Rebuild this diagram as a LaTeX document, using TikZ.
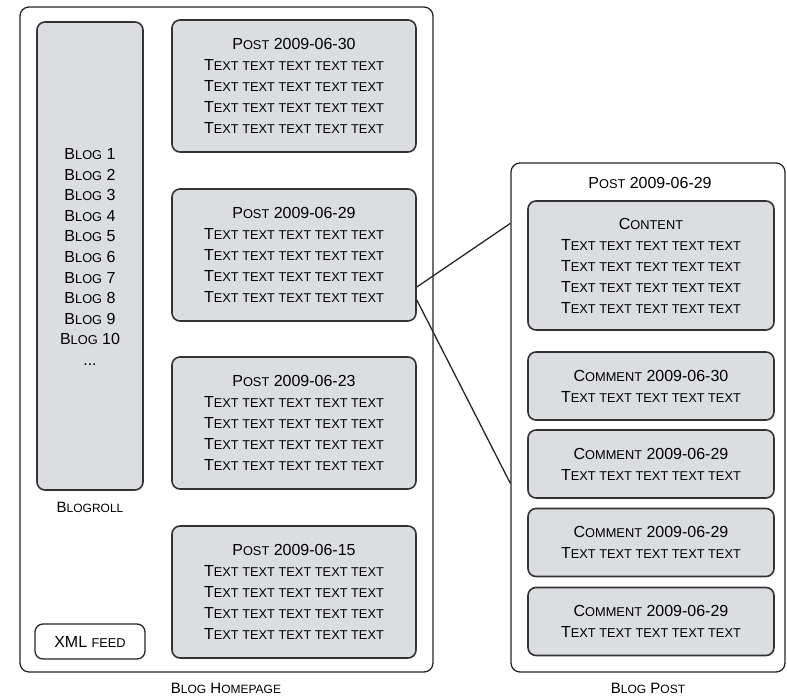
\documentclass[tikz,border=0pt]{standalone}
\usepackage{fontspec}
\setmainfont{Liberation Sans}
\usetikzlibrary{calc}

\definecolor{boxgray}{RGB}{219,221,224}
% fake small caps
\newcommand{\sm}[2][12.8]{{\fontsize{#1}{21}\selectfont\MakeUppercase{#2}}}
\newcommand{\Txt}{T\sm{ext text text text text}}

\tikzset{
  frame/.style={draw=black!85, line width=1.3pt, rounded corners=9pt, fill=white, inner sep=0pt},
  graybox/.style={draw=black!80, line width=1.6pt, rounded corners=8pt, fill=boxgray,
    align=center, inner sep=0pt, font=\fontsize{16}{21}\selectfont},
  postbox/.style={graybox, minimum width=244pt, minimum height=132pt},
  combox/.style={graybox, minimum width=246pt, minimum height=68pt},
  lbl/.style={font=\fontsize{15}{20}\selectfont},
}

\begin{document}
\begin{tikzpicture}[x=1pt,y=-1pt]
  \useasboundingbox (0,0) rectangle (787,699);
  % frames
  \node[frame, minimum width=413pt, minimum height=665pt] (home) at (226.5,339.5) {};
  \node[frame, minimum width=274pt, minimum height=509pt] (page) at (648,417.5) {};

  % blog homepage
  \node[graybox, minimum width=106pt, minimum height=468pt] (roll) at (90,256) {};
  \node[align=center, font=\fontsize{16}{20.6}\selectfont] (rolltxt) at (90,257)
    {B\sm{log} 1\\B\sm{log} 2\\B\sm{log} 3\\B\sm{log} 4\\B\sm{log} 5\\B\sm{log} 6\\
     B\sm{log} 7\\B\sm{log} 8\\B\sm{log} 9\\B\sm{log} 10\\...};
  \node[lbl] (rolllbl) at (90,507) {B\sm[12]{logroll}};
  \node[frame, rounded corners=8pt, minimum width=110pt, minimum height=35pt,
    font=\fontsize{16}{20}\selectfont] (feed) at (90,641.5) {XML \sm{feed}};

  \node[postbox] (post1) at (294,86) {P\sm{ost} 2009-06-30\\\Txt\\\Txt\\\Txt\\\Txt};
  \node[postbox] (post2) at (294,255) {P\sm{ost} 2009-06-29\\\Txt\\\Txt\\\Txt\\\Txt};
  \node[postbox] (post3) at (294,423) {P\sm{ost} 2009-06-23\\\Txt\\\Txt\\\Txt\\\Txt};
  \node[postbox] (post4) at (294,592) {P\sm{ost} 2009-06-15\\\Txt\\\Txt\\\Txt\\\Txt};
  \node[lbl] (homelbl) at (226,688) {B\sm[12]{log} H\sm[12]{omepage}};

  % blog post
  \node[font=\fontsize{16}{20}\selectfont] (pagettl) at (650,183) {P\sm{ost} 2009-06-29};
  \node[graybox, minimum width=246pt, minimum height=129pt] (content) at (651,265.5)
    {C\sm{ontent}\\\Txt\\\Txt\\\Txt\\\Txt};
  \node[combox] (com1) at (651,386) {C\sm{omment} 2009-06-30\\\Txt};
  \node[combox] (com2) at (651,464) {C\sm{omment} 2009-06-29\\\Txt};
  \node[combox] (com3) at (651,542.5) {C\sm{omment} 2009-06-29\\\Txt};
  \node[combox] (com4) at (651,621.5) {C\sm{omment} 2009-06-29\\\Txt};
  \node[lbl] (pagelbl) at (648,688) {B\sm[12]{log} P\sm[12]{ost}};

  % zoom lines
  \coordinate (zA) at ([yshift=-32pt]post2.east);
  \coordinate (zB) at ([yshift=-45pt]post2.east);
  \coordinate (zC) at ([yshift=-61pt]page.north west);
  \coordinate (zD) at ([yshift=-321pt]page.north west);
  \draw[line width=1.3pt, black!85] (zA) -- (zC);
  \draw[line width=1.3pt, black!85] (zB) -- (zD);
\end{tikzpicture}
\end{document}
